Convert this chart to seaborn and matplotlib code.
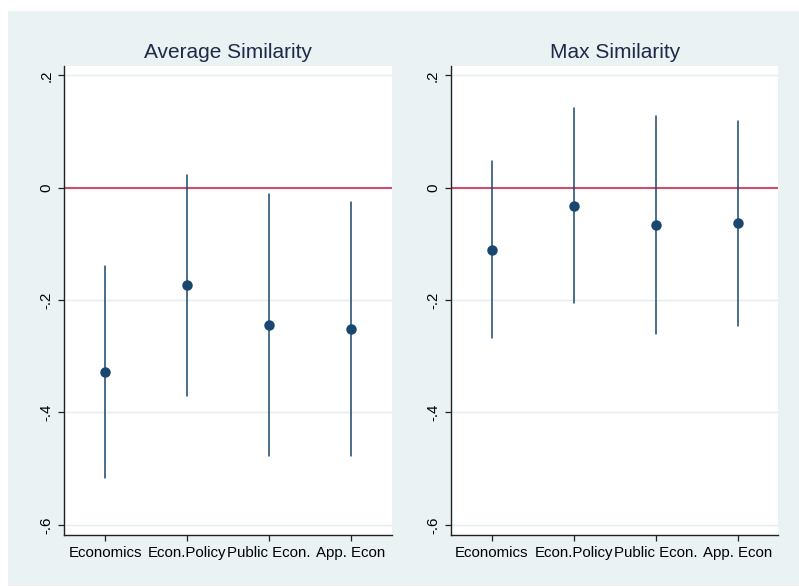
import matplotlib
matplotlib.use("Agg")
import matplotlib.pyplot as plt
from matplotlib.patches import Rectangle
import numpy as np
import pandas as pd
import seaborn as sns

# Fields and their coefficient estimates with 95% confidence bounds
fields = ["Economics", "Econ.Policy", "Public Econ.", "App. Econ"]

avg_est = [-0.328, -0.174, -0.245, -0.251]
avg_lo = [-0.516, -0.370, -0.478, -0.478]
avg_hi = [-0.139, 0.022, -0.011, -0.025]

max_est = [-0.110, -0.032, -0.067, -0.063]
max_lo = [-0.268, -0.206, -0.261, -0.246]
max_hi = [0.047, 0.141, 0.127, 0.119]

panel_titles = ["Average Similarity", "Max Similarity"]

y_ticks = [-0.6, -0.4, -0.2, 0.0, 0.2]
y_tick_labels = ["-.6", "-.4", "-.2", "0", ".2"]

NAVY = "#1a476f"
BG = "#eaf2f3"
REF = "#cc4f6c"
TITLE = "#1f2a48"


def long_frame(est, lo, hi):
    rows = []
    for f, e, l, h in zip(fields, est, lo, hi):
        for v in (l, e, h):
            rows.append({"field": f, "value": v})
    return pd.DataFrame(rows)


sns.set_theme(style="white")
plt.rcParams["font.family"] = ["Liberation Sans", "DejaVu Sans"]

fig = plt.figure(figsize=(7.99, 5.87), dpi=100, facecolor="white")
fig.patches.append(Rectangle((8 / 799, 1 / 587), 1 - 8 / 799, 1 - 12 / 587,
                             transform=fig.transFigure, facecolor=BG,
                             edgecolor="none", zorder=-10))

ax_w = 0.4098
ax_h = 0.799
ax_b = 0.0886
axes = [fig.add_axes([0.0805, ax_b, ax_w, ax_h]),
        fig.add_axes([0.5645, ax_b, ax_w, ax_h])]

panels = [(avg_est, avg_lo, avg_hi), (max_est, max_lo, max_hi)]

for ax, title, (est, lo, hi) in zip(axes, panel_titles, panels):
    ax.set_facecolor("white")
    df = long_frame(est, lo, hi)
    # zero reference line
    ax.axhline(0, color=REF, linewidth=1.5, zorder=1)
    sns.pointplot(data=df, x="field", y="value", order=fields,
                  estimator="median", errorbar=("pi", 100),
                  linestyle="none", marker="o", markersize=5.5,
                  color=NAVY, err_kws={"linewidth": 1.1}, capsize=0, ax=ax,
                  zorder=3)
    ax.set_xlim(-0.5, 3.5)
    ax.set_ylim(-0.618, 0.2166)
    ax.set_yticks(y_ticks)
    ax.set_yticklabels(y_tick_labels, rotation=90, va="center")
    ax.set_xlabel("")
    ax.set_ylabel("")
    ax.yaxis.grid(True, color="#e4edef", linewidth=1.0, zorder=0)
    ax.xaxis.grid(False)
    ax.set_axisbelow(True)
    for side in ("top", "right"):
        ax.spines[side].set_visible(False)
    for side in ("left", "bottom"):
        ax.spines[side].set_color("#222222")
        ax.spines[side].set_linewidth(1.0)
    ax.tick_params(axis="both", which="both", direction="out", length=4,
                   width=0.9, color="#222222", labelsize=10.8,
                   labelcolor="black", pad=4, left=True, bottom=True)
    ax.set_title(title, fontsize=15, color=TITLE, pad=5.5)

fig.savefig("out.png", dpi=100, facecolor="white")
